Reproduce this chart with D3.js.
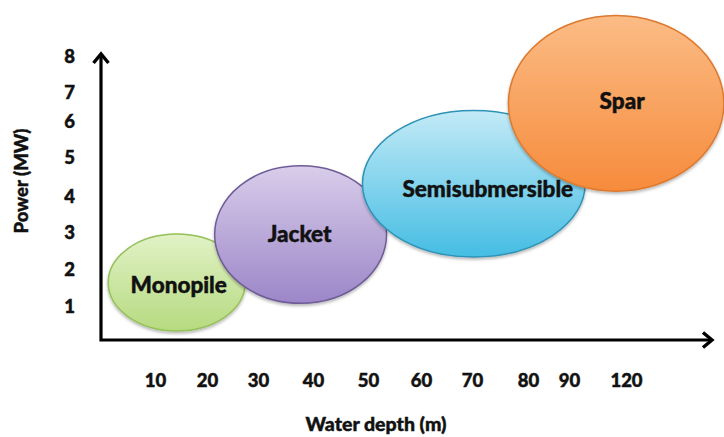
<!DOCTYPE html>
<html><head><meta charset="utf-8">
<script src="https://cdn.jsdelivr.net/npm/d3@7"></script>
<style>
html,body{margin:0;padding:0;background:#fff;}
svg{display:block;font-family:Lato,"Open Sans",sans-serif;font-weight:900;}
svg text{stroke:#111;stroke-width:0.45px;paint-order:stroke fill;}
</style></head><body>
<svg id="chart" width="724" height="437"></svg>
<script>
// Foundation types and the depth / power envelope each one covers
const foundations = ["Monopile", "Jacket", "Semisubmersible", "Spar"];
const depthMin = [1, 21.5, 49, 76.5];
const depthMax = [27.5, 53.5, 98.5, 171.5];
const powerMin = [0.35, 1.1, 2.35, 4.15];
const powerMax = [2.97, 4.8, 6.4, 9.15];

// Axis tick labels (depth axis is not evenly spaced)
const depthTicks = [10, 20, 30, 40, 50, 60, 70, 80, 90, 120];
const powerTicks = [1, 2, 3, 4, 5, 6, 7, 8];

const xTitle = "Water depth (m)";
const yTitle = "Power (MW)";

// Fill gradients and outlines per foundation
const fillTop = ["#e1f2c6", "#d8cdea", "#c3eaf7", "#fbbc85"];
const fillBottom = ["#b6da80", "#9c86c8", "#45bde3", "#f68b3c"];
const outline = ["#95c05a", "#6e5c96", "#2f93b6", "#de7a2e"];
// small label nudges (px) so each name sits where it reads best
const labelDx = [2, -1, 14, 6];
const labelDy = [3, 0, 5, -2];

const svg = d3.select("#chart");
const origin = { x: 101, y: 340 };

// piecewise scales: the depth axis is drawn with uneven spacing
const x = d3.scaleLinear()
  .domain(depthTicks)
  .range([155, 207, 258, 313, 368, 421, 472, 528, 569, 626]);
const y = d3.scaleLinear()
  .domain(powerTicks)
  .range([307, 270, 233, 197, 158, 122, 93, 57]);

const defs = svg.append("defs");
foundations.forEach((f, i) => {
  const g = defs.append("linearGradient")
    .attr("id", "grad" + i)
    .attr("x1", 0).attr("y1", 0).attr("x2", 0).attr("y2", 1);
  g.append("stop").attr("offset", "0%").attr("stop-color", fillTop[i]);
  g.append("stop").attr("offset", "100%").attr("stop-color", fillBottom[i]);
});
const shadow = defs.append("filter").attr("id", "shadow")
  .attr("x", "-10%").attr("y", "-10%").attr("width", "120%").attr("height", "125%");
shadow.append("feDropShadow")
  .attr("dx", 0).attr("dy", 2).attr("stdDeviation", 1.6)
  .attr("flood-color", "#000").attr("flood-opacity", 0.28);

const rows = foundations.map((name, i) => ({
  name, i,
  cx: (x(depthMin[i]) + x(depthMax[i])) / 2,
  cy: (y(powerMin[i]) + y(powerMax[i])) / 2,
  rx: Math.abs(x(depthMax[i]) - x(depthMin[i])) / 2,
  ry: Math.abs(y(powerMin[i]) - y(powerMax[i])) / 2
}));

// envelopes
svg.append("g").selectAll("ellipse")
  .data(rows)
  .join("ellipse")
  .attr("cx", d => d.cx)
  .attr("cy", d => d.cy)
  .attr("rx", d => d.rx)
  .attr("ry", d => d.ry)
  .attr("fill", d => `url(#grad${d.i})`)
  .attr("stroke", d => outline[d.i])
  .attr("stroke-width", 1.5)
  .attr("filter", "url(#shadow)");

// names on top of all envelopes
svg.append("g").selectAll("text")
  .data(rows)
  .join("text")
  .attr("x", d => d.cx + labelDx[d.i])
  .attr("y", d => d.cy + labelDy[d.i])
  .attr("dy", "0.35em")
  .attr("text-anchor", "middle")
  .attr("font-size", 22.5)
  .attr("fill", "#111")
  .text(d => d.name);

// tick labels only, no tick marks
const xAxis = svg.append("g")
  .attr("transform", `translate(0,${origin.y})`)
  .call(d3.axisBottom(x).tickValues(depthTicks).tickSize(0).tickPadding(34).tickFormat(d3.format("d")));
const yAxis = svg.append("g")
  .attr("transform", `translate(${origin.x},0)`)
  .call(d3.axisLeft(y).tickValues(powerTicks).tickSize(0).tickPadding(26).tickFormat(d3.format("d")));
[xAxis, yAxis].forEach(a => {
  a.select(".domain").remove();
  a.selectAll("text")
    .attr("font-family", "Lato, 'Open Sans', sans-serif")
    .attr("font-weight", 900)
    .attr("font-size", 18.5)
    .attr("fill", "#111");
});

// axis lines with arrow heads
svg.append("path")
  .attr("d", `M${origin.x},55 V${origin.y} H711`)
  .attr("fill", "none").attr("stroke", "#000").attr("stroke-width", 3.2)
  .attr("stroke-linejoin", "miter");
svg.append("path")
  .attr("d", `M${origin.x - 7.5},63 L${origin.x},54 L${origin.x + 7.5},63`)
  .attr("fill", "none").attr("stroke", "#000").attr("stroke-width", 3.4)
  .attr("stroke-linejoin", "miter");
svg.append("path")
  .attr("d", `M703,${origin.y - 7.5} L712,${origin.y} L703,${origin.y + 7.5}`)
  .attr("fill", "none").attr("stroke", "#000").attr("stroke-width", 3.4)
  .attr("stroke-linejoin", "miter");

// axis titles
svg.append("text")
  .attr("x", 376).attr("y", 431)
  .attr("text-anchor", "middle")
  .attr("font-size", 19.5)
  .attr("fill", "#111")
  .text(xTitle);
svg.append("text")
  .attr("transform", "translate(28,181) rotate(-90)")
  .attr("text-anchor", "middle")
  .attr("font-size", 18.5)
  .attr("fill", "#111")
  .text(yTitle);
</script>
</body></html>
